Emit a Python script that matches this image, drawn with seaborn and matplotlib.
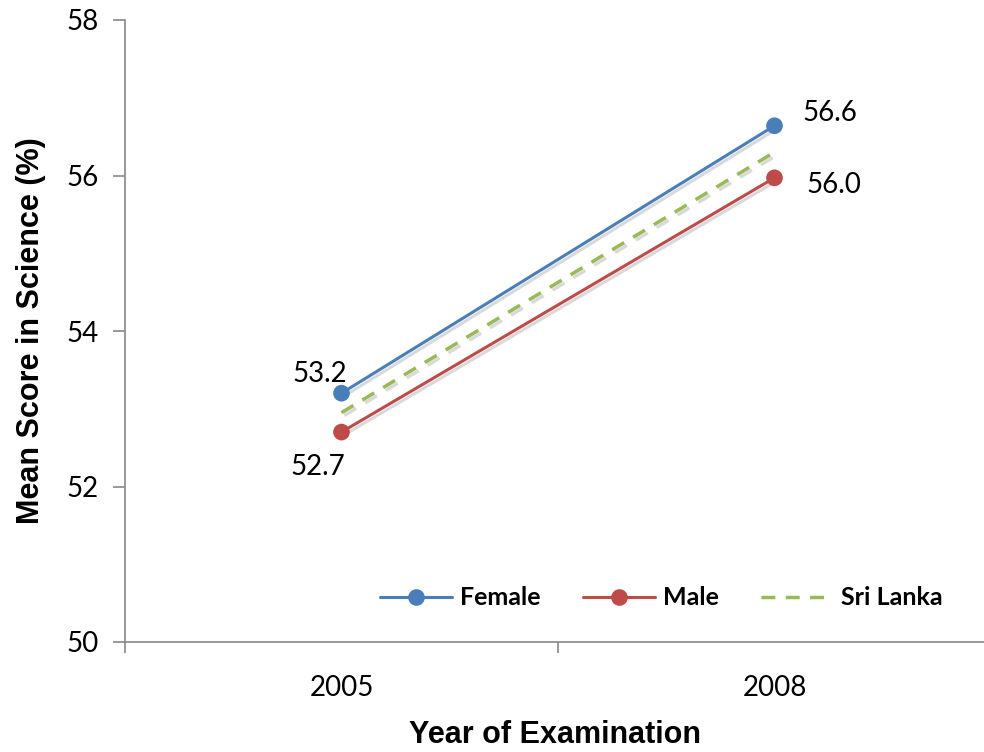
import matplotlib
matplotlib.use("Agg")
import matplotlib.pyplot as plt
import matplotlib.patheffects as pe
import seaborn as sns
import pandas as pd

years = ["2005", "2008"]
female = [53.2, 56.64]
male = [52.7, 55.97]
sri_lanka = [52.95, 56.3]
female_labels = ["53.2", "56.6"]
male_labels = ["52.7", "56.0"]
yticks = [50, 52, 54, 56, 58]

sns.set_theme(style="white")
plt.rcParams['font.family'] = ['Lato', 'DejaVu Sans']
plt.rcParams['text.color'] = 'black'
plt.rcParams['axes.labelcolor'] = 'black'
plt.rcParams['xtick.color'] = 'black'
plt.rcParams['ytick.color'] = 'black'

fig = plt.figure(figsize=(9.84, 7.52), dpi=100)
ax = fig.add_axes([125/984, 110/752, 866/984, 622/752])

pos = list(range(len(years)))
df = pd.DataFrame({"x": pos * 3,
                   "y": female + male + sri_lanka,
                   "series": ["Female"] * 2 + ["Male"] * 2 + ["Sri Lanka"] * 2})

blue = "#4A7EBB"
red = "#BE4B48"
green = "#98B954"
shadow = [pe.SimpleLineShadow(offset=(2, -2), shadow_color="black", alpha=0.15), pe.Normal()]

sns.lineplot(data=df[df.series == "Female"], x="x", y="y", ax=ax, color=blue, lw=2.2,
             marker="o", markersize=12, markeredgewidth=0, label="Female")
sns.lineplot(data=df[df.series == "Male"], x="x", y="y", ax=ax, color=red, lw=2.2,
             marker="o", markersize=12, markeredgewidth=0, label="Male")
sns.lineplot(data=df[df.series == "Sri Lanka"], x="x", y="y", ax=ax, color=green, lw=2.5,
             dashes=False, label="Sri Lanka")
ax.lines[-1].set_linestyle((0, (4, 3)))
for ln in ax.lines:
    ln.set_path_effects(shadow)

ax.set_xlim(-0.5, 1.5)
ax.set_ylim(50, 58)
ax.set_xticks(pos)
ax.set_xticklabels(years)
ax.set_xticks([-0.5, 0.5, 1.5], minor=True)
ax.set_yticks(yticks)
ax.set_yticklabels([str(t) for t in yticks])
ax.tick_params(axis="x", which="major", length=0, pad=24, labelsize=20)
ax.tick_params(axis="x", which="minor", length=8, width=1.2, color="#888888", direction="out", bottom=True)
ax.tick_params(axis="y", length=9, width=1.2, color="#888888", direction="out", left=True,
               labelsize=20, pad=10, labelcolor="black")

for s in ["top", "right"]:
    ax.spines[s].set_visible(False)
for s in ["left", "bottom"]:
    ax.spines[s].set_color("#888888")
    ax.spines[s].set_linewidth(1.2)

ax.set_xlabel("Year of Examination", fontsize=22, fontweight="bold", color="black",
              family=["Liberation Sans", "DejaVu Sans"])
ax.set_ylabel("Mean Score in Science (%)", fontsize=22, fontweight="bold", color="black",
              family=["Liberation Sans", "DejaVu Sans"])
ax.xaxis.set_label_coords(0.497, -0.125)
ax.yaxis.set_label_coords(-0.091, 0.5)

# data labels
ax.annotate(female_labels[0], (pos[0], female[0]), xytext=(-16, 14), textcoords="offset points",
            ha="center", va="center", fontsize=20)
ax.annotate(male_labels[0], (pos[0], male[0]), xytext=(-17, -25), textcoords="offset points",
            ha="center", va="center", fontsize=20)
ax.annotate(female_labels[1], (pos[1], female[1]), xytext=(40, 9), textcoords="offset points",
            ha="center", va="center", fontsize=20)
ax.annotate(male_labels[1], (pos[1], male[1]), xytext=(43, -5), textcoords="offset points",
            ha="center", va="center", fontsize=20)

leg = ax.legend(loc="center left", bbox_to_anchor=(0.268, 0.071), ncol=3, frameon=False,
                prop={"family": ["Lato", "DejaVu Sans"], "weight": "bold", "size": 18},
                handlelength=2.9, columnspacing=1.7, handletextpad=0.3)
for h in leg.legend_handles:
    h.set_path_effects([])

fig.savefig("out.png", dpi=100)
